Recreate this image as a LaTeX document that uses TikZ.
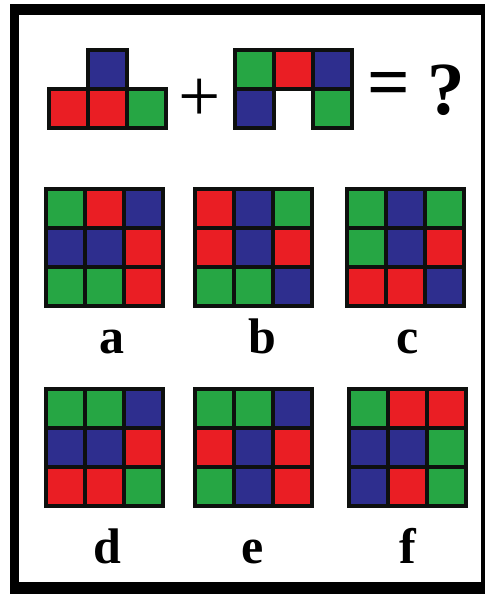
\documentclass[tikz,border=0pt]{standalone}
\usepackage{fontspec}
\setmainfont{Liberation Serif}
\usepackage{xcolor}
\usepackage{tikz}

\definecolor{tileG}{RGB}{38,166,68}
\definecolor{tileR}{RGB}{234,30,36}
\definecolor{tileB}{RGB}{46,46,142}
\definecolor{tileline}{RGB}{14,16,14}

\begin{document}
\begin{tikzpicture}[x=1pt,y=-1pt,
    letter/.style={font=\fontsize{50}{50}\selectfont\bfseries,anchor=base,inner sep=0pt},
    sign/.style={font=\fontsize{75}{75}\selectfont,inner sep=0pt}]
    \def\cellw{39}
    \def\skipname{N}

    \useasboundingbox (0,0) rectangle (488,594);
    \fill[black] (10,4) rectangle (485,594);
    \fill[white] (19,15) rectangle (481,582);

    \newcommand{\drawtile}[4]{%
        \foreach [count=\k from 0] \c in {#4} {
            \pgfmathtruncatemacro{\col}{mod(\k,#3)}
            \pgfmathtruncatemacro{\row}{div(\k,#3)}
            \edef\tmpname{\c}
            \ifx\tmpname\skipname\else
                \filldraw[fill=tile\c,draw=tileline,line width=4pt]
                    ({#1+\col*\cellw},{#2+\row*\cellw})
                    rectangle ++(\cellw,\cellw);
            \fi
        }
    }

    % the sum
    \drawtile{49}{50}{3}{N,B,N,R,R,G}
    \node[sign] (plus) at (200,100) {+};
    \drawtile{235}{50}{3}{G,R,B,B,N,G}
    \node[sign,font=\fontsize{75}{75}\selectfont\bfseries] (equals) at (389,90) {=};
    \node[sign,font=\fontsize{75}{75}\selectfont\bfseries] (qmark) at (446,90) {?};

    % the answers
    \drawtile{46}{189}{3}{G,R,B,B,B,R,G,G,R}
    \drawtile{195}{189}{3}{R,B,G,R,B,R,G,G,B}
    \drawtile{347}{189}{3}{G,B,G,G,B,R,R,R,B}
    \drawtile{46}{389}{3}{G,G,B,B,B,R,R,R,G}
    \drawtile{195}{389}{3}{G,G,B,R,B,R,G,B,R}
    \drawtile{349}{389}{3}{G,R,R,B,B,G,B,R,G}

    \node[letter] (lbla) at (112,353) {a};
    \node[letter] (lblb) at (262,353) {b};
    \node[letter] (lblc) at (408,353) {c};
    \node[letter] (lbld) at (107,563) {d};
    \node[letter] (lble) at (253,563) {e};
    \node[letter] (lblf) at (408,563) {f};
\end{tikzpicture}
\end{document}
